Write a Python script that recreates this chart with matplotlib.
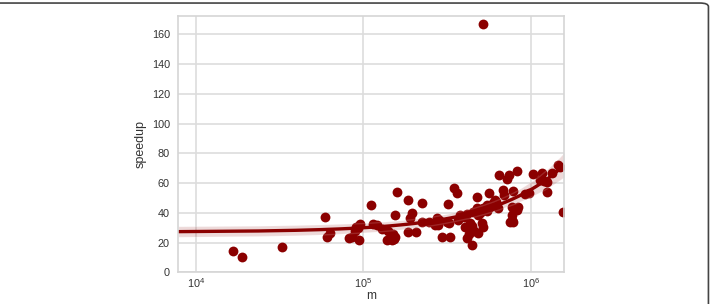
import matplotlib
matplotlib.use("Agg")
import matplotlib.pyplot as plt
import numpy as np
import seaborn as sns
from matplotlib.patches import FancyBboxPatch

m = [
    16600, 18800, 32900, 59200, 60500, 63400, 82600, 85300, 94800, 89300,
    95700, 93300, 90200, 111400, 114000, 121300, 128800, 138000, 141300, 158500,
    155600, 147900, 153100, 149600, 154900, 184500, 225400, 319200, 349900, 361400,
    195000, 190500, 186200, 205600, 223900, 245500, 274800, 285100, 269200, 278600,
    294400, 329600, 314800, 323600, 369800, 378400, 405500, 415000, 444600, 426600,
    457100, 433500, 650100, 719500, 744700, 824100, 1028000, 1164000, 1138000, 1247000,
    1202000, 1449000, 1496000, 1256000, 1549000, 1349000, 479700, 566200, 687100, 787000,
    691800, 924700, 977200, 612400, 616600, 592900, 545800, 521200, 476400, 453900,
    486400, 639700, 769100, 843300, 824100, 769100, 769100, 787000, 749900, 509300,
    516400, 486400, 444600, 521200, 398100, 416900, 501200, 549500, 575400, 794300,
]
speedup = [
    14.1, 10.1, 17.3, 37.0, 23.5, 26.6, 22.8, 23.5, 21.7, 28.0,
    32.5, 29.6, 30.5, 45.0, 32.5, 31.8, 29.1, 21.7, 28.0, 54.2,
    38.5, 21.7, 22.6, 26.0, 23.9, 48.6, 46.4, 45.9, 56.5, 53.1,
    39.7, 36.3, 27.3, 27.3, 34.0, 34.0, 36.3, 35.5, 31.8, 32.0,
    23.9, 23.9, 34.0, 33.0, 35.2, 38.5, 30.7, 22.9, 18.4, 26.0,
    28.0, 33.0, 65.4, 62.5, 65.4, 68.3, 66.1, 66.5, 62.0, 61.0,
    61.5, 72.1, 71.0, 53.8, 40.3, 67.0, 50.8, 53.1, 55.3, 54.6,
    52.0, 52.6, 53.1, 48.6, 47.0, 46.4, 45.2, 43.0, 43.0, 40.7,
    38.5, 43.0, 44.1, 44.1, 41.9, 38.5, 35.2, 34.0, 33.5, 33.3,
    30.2, 26.6, 31.1, 167.0, 37.0, 39.0, 40.0, 41.0, 44.0, 42.0,
]

sns.set_style("whitegrid")
plt.rcParams["font.family"] = ["Liberation Sans", "DejaVu Sans"]
plt.rcParams["mathtext.fontset"] = "custom"
plt.rcParams["mathtext.rm"] = "Liberation Sans"

fig = plt.figure(figsize=(7.12, 3.04), dpi=100)
ax = fig.add_axes([0.2504, 0.1043, 0.5417, 0.8427])

ax.set_xscale("log")
ax.set_xlim(7870, 1.58e6)
ax.set_ylim(0, 172.3)

sns.regplot(
    x=np.array(m, dtype=float),
    y=np.array(speedup),
    ax=ax,
    color="#8b0000",
    truncate=False,
    seed=0,
    scatter_kws={"s": 50, "alpha": 1, "linewidths": 0},
    line_kws={"linewidth": 2.4},
)

ax.set_yticks(range(0, 161, 20))
ax.set_xticks([1e4, 1e5, 1e6])
ax.set_xticklabels([r"$10^{4}$", r"$10^{5}$", r"$10^{6}$"])
ax.minorticks_off()
ax.tick_params(axis="both", labelsize=7.8, colors="#333333", length=0)
ax.tick_params(axis="y", pad=6)
ax.tick_params(axis="x", pad=3)
ax.grid(True, color="#dddddd", linewidth=1.2)
for spine in ax.spines.values():
    spine.set_color("#d5d5d5")
    spine.set_linewidth(1.2)

ax.set_xlabel("m", fontsize=8.6, color="#333333", labelpad=0)
ax.set_ylabel("speedup", fontsize=9, color="#333333", labelpad=4)

# rounded frame around the figure panel
frame = FancyBboxPatch(
    (-0.05, -0.2), 1.045, 1.19,
    boxstyle="round,pad=0,rounding_size=0.012",
    transform=fig.transFigure,
    facecolor="none",
    edgecolor="#444444",
    linewidth=1.2,
    clip_on=False,
)
fig.patches.append(frame)

fig.savefig("out.png", dpi=100)
plt.close(fig)
